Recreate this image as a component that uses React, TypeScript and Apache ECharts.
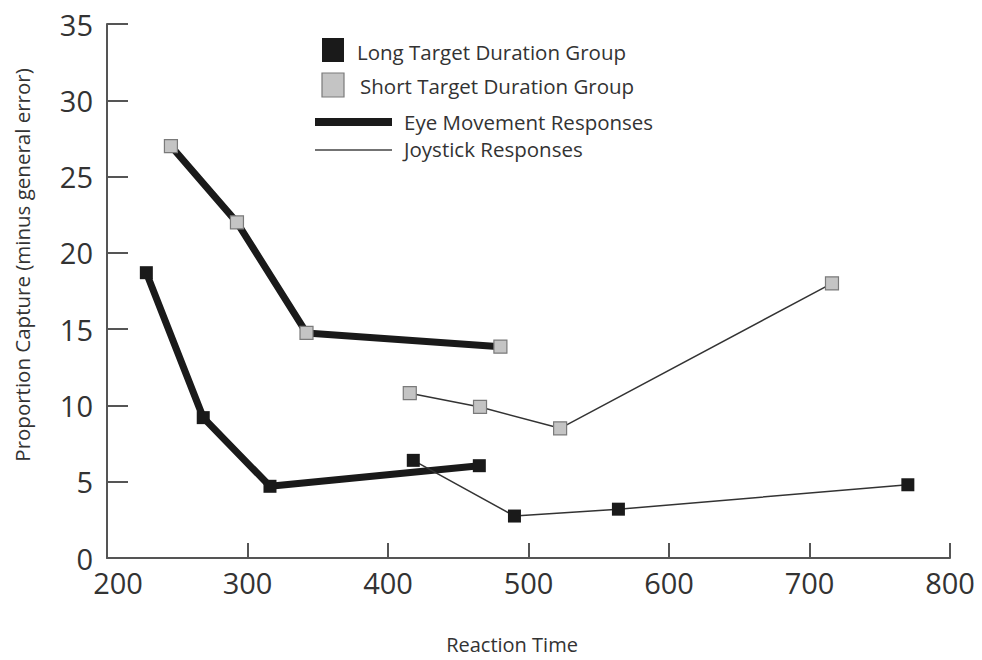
import React, { useEffect, useRef } from "react";
import * as echarts from "echarts";

const xTicks = [200, 300, 400, 500, 600, 700, 800];
const yTicks = [0, 5, 10, 15, 20, 25, 30, 35];

const longEye: [number, number][] = [[228, 18.7], [268.5, 9.2], [316, 4.7], [465, 6.05]];
const shortEye: [number, number][] = [[245.5, 27.0], [292.5, 22.0], [342, 14.75], [480, 13.85]];
const shortJoy: [number, number][] = [[415.5, 10.8], [465.5, 9.9], [522.5, 8.5], [716, 18.0]];
const longJoy: [number, number][] = [[418, 6.4], [490, 2.75], [564, 3.2], [770, 4.8]];

const legendLabels = [
  "Long Target Duration Group",
  "Short Target Duration Group",
  "Eye Movement Responses",
  "Joystick Responses",
];
const xName = "Reaction Time";
const yName = "Proportion Capture (minus general error)";

const FONT = "'Open Sans', 'Noto Sans', sans-serif";
const BLACK = "#1a1a1a";
const GREY_FILL = "#c4c4c4";
const GREY_BORDER = "#7a7a7a";
const TEXT = "#333";

export default function App() {
  const ref = useRef<HTMLDivElement>(null);
  useEffect(() => {
    if (!ref.current) return;
    const chart = echarts.init(ref.current, null, { renderer: "svg" });
    const blackSym = { color: BLACK, borderColor: BLACK, borderWidth: 0 };
    const greySym = { color: GREY_FILL, borderColor: GREY_BORDER, borderWidth: 1.2 };
    chart.setOption({
      animation: false,
      backgroundColor: "#ffffff",
      grid: { left: 107, right: 32, top: 24, bottom: 102, containLabel: false },
      xAxis: {
        type: "value",
        min: xTicks[0],
        max: xTicks[xTicks.length - 1],
        interval: 100,
        axisLine: { show: true, onZero: false, lineStyle: { color: "#555", width: 2 } },
        axisTick: { show: true, inside: true, length: 15, lineStyle: { color: "#555", width: 2 } },
        axisLabel: {
          fontFamily: FONT,
          fontSize: 29,
          color: TEXT,
          margin: 10,
          formatter: (v: number) => (v === xTicks[0] ? "{first|" + v + "}" : String(v)),
          rich: { first: { fontFamily: FONT, fontSize: 29, color: TEXT, padding: [0, 0, 0, 22] } },
        },
        splitLine: { show: false },
      },
      yAxis: {
        type: "value",
        min: yTicks[0],
        max: yTicks[yTicks.length - 1],
        interval: 5,
        axisLine: { show: true, lineStyle: { color: "#555", width: 2 } },
        axisTick: { show: true, inside: true, length: 21, lineStyle: { color: "#555", width: 2 } },
        axisLabel: { fontFamily: FONT, fontSize: 29, color: TEXT, margin: 14 },
        splitLine: { show: false },
      },
      series: [
        {
          type: "line",
          data: longEye,
          lineStyle: { color: BLACK, width: 7 },
          symbol: "rect",
          symbolSize: 13,
          itemStyle: blackSym,
          z: 2,
        },
        {
          type: "line",
          data: shortEye,
          lineStyle: { color: BLACK, width: 7 },
          symbol: "rect",
          symbolSize: 13,
          itemStyle: greySym,
          z: 2,
        },
        {
          type: "line",
          data: shortJoy,
          lineStyle: { color: "#333", width: 1.5 },
          symbol: "rect",
          symbolSize: 13,
          itemStyle: greySym,
          z: 3,
        },
        {
          type: "line",
          data: longJoy,
          lineStyle: { color: "#333", width: 1.5 },
          symbol: "rect",
          symbolSize: 13,
          itemStyle: blackSym,
          z: 3,
        },
      ],
      graphic: [
        { type: "rect", shape: { x: 322, y: 38, width: 22, height: 24 }, style: { fill: BLACK } },
        { type: "text", x: 357, y: 52, style: { text: legendLabels[0], fontFamily: FONT, fontSize: 20.5, fill: TEXT, verticalAlign: "middle" } },
        { type: "rect", shape: { x: 322, y: 73, width: 22, height: 24 }, style: { fill: GREY_FILL, stroke: GREY_BORDER, lineWidth: 1.2 } },
        { type: "text", x: 360, y: 86, style: { text: legendLabels[1], fontFamily: FONT, fontSize: 20.5, fill: TEXT, verticalAlign: "middle" } },
        { type: "rect", shape: { x: 315, y: 118, width: 77, height: 8 }, style: { fill: BLACK } },
        { type: "text", x: 404, y: 122, style: { text: legendLabels[2], fontFamily: FONT, fontSize: 20.5, fill: TEXT, verticalAlign: "middle" } },
        { type: "line", shape: { x1: 315, y1: 150, x2: 392, y2: 150 }, style: { stroke: "#444", lineWidth: 1.5 } },
        { type: "text", x: 404, y: 149, style: { text: legendLabels[3], fontFamily: FONT, fontSize: 20.5, fill: TEXT, verticalAlign: "middle" } },
        { type: "text", x: 512, y: 644, style: { text: xName, fontFamily: FONT, fontSize: 20, fill: TEXT, align: "center", verticalAlign: "middle" } },
        { type: "text", x: 22, y: 265, rotation: Math.PI / 2, style: { text: yName, fontFamily: FONT, fontSize: 20.5, fill: TEXT, align: "center", verticalAlign: "middle" } },
      ],
    });
    return () => chart.dispose();
  }, []);
  return (
    <div
      ref={ref}
      style={{ position: "absolute", left: 0, top: 0, width: 982, height: 660, overflow: "hidden" }}
    />
  );
}
